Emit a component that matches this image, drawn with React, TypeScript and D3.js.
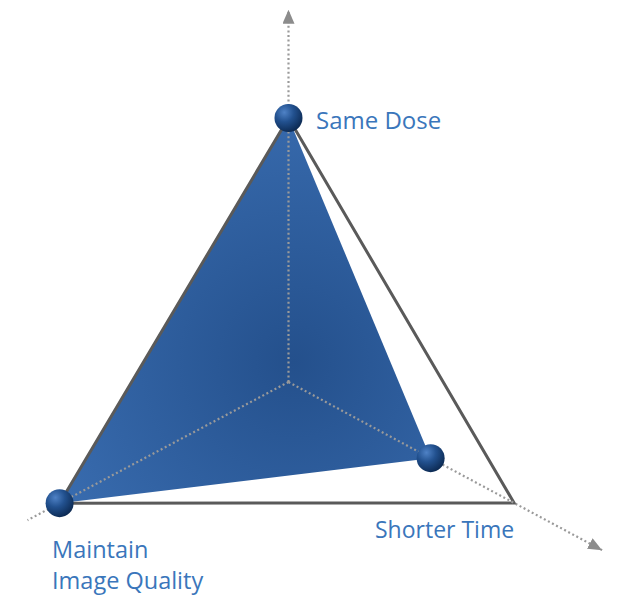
import React, { useEffect } from 'react';
import * as d3 from 'd3';

// axes of the triangle chart, angle in degrees (0 = right, clockwise positive)
const axisNames = ['Same Dose', 'Shorter Time', 'Maintain Image Quality'];
const axisAngles = [-90, 28.2, 152.1];
const axisLength = [264, 256, 259]; // pixel length of value 1 on each axis (perspective)
const axisExtent = [1.41, 1.39, 1.14];
const axisArrow = [true, true, false];
const values = [1, 0.63, 1];

const width = 622;
const height = 597;
const cx = 288.5;
const cy = 382;

export default function App() {
  useEffect(() => {
    document.body.style.margin = '0';
  }, []);

  const r = d3.scaleLinear().domain([0, 1]).range([0, 1]);
  const pt = (i: number, v: number): [number, number] => {
    const a = (axisAngles[i] * Math.PI) / 180;
    const d = r(v) * axisLength[i];
    return [cx + d * Math.cos(a), cy + d * Math.sin(a)];
  };

  const line = d3.line<[number, number]>().curve(d3.curveLinearClosed);
  const outer = axisNames.map((_, i) => pt(i, 1));
  const inner = values.map((v, i) => pt(i, v));

  const labelColor = '#3a76bb';
  const font = "'Open Sans', 'Noto Sans', sans-serif";

  return (
    <svg width={width} height={height} style={{ display: 'block' }}>
      <defs>
        <radialGradient id="fillGrad" gradientUnits="userSpaceOnUse" cx={cx + 5} cy={cy - 20} r={300}>
          <stop offset="0%" stopColor="#24508c" />
          <stop offset="100%" stopColor="#3b6fb3" />
        </radialGradient>
        <radialGradient id="ball" cx="35%" cy="30%" r="75%">
          <stop offset="0%" stopColor="#4f82c6" />
          <stop offset="45%" stopColor="#22518f" />
          <stop offset="100%" stopColor="#0b2850" />
        </radialGradient>
        <marker id="arrow" viewBox="0 0 14 12" refX="14" refY="6" markerWidth="14" markerHeight="12"
          markerUnits="userSpaceOnUse" orient="auto">
          <path d="M0,0L14,6L0,12Z" fill="#8c8c8c" />
        </marker>
      </defs>

      <path d={line(inner) ?? ''} fill="url(#fillGrad)" />
      <path d={line(outer) ?? ''} fill="none" stroke="#5a5a5a" strokeWidth={3} strokeLinejoin="miter" />

      {axisNames.map((name, i) => {
        const [x2, y2] = pt(i, axisExtent[i]);
        return (
          <line key={name} x1={cx} y1={cy} x2={x2} y2={y2} stroke="#9a9a9a" strokeWidth={2.2}
            strokeDasharray="2,2.6" markerEnd={axisArrow[i] ? 'url(#arrow)' : undefined} />
        );
      })}

      {inner.map(([x, y], i) => (
        <circle key={i} cx={x} cy={y} r={14} fill="url(#ball)" />
      ))}

      <text x={316} y={129} fill={labelColor} fontFamily={font} fontSize={24}>{axisNames[0]}</text>
      <text x={375} y={538} fill={labelColor} fontFamily={font} fontSize={23}>{axisNames[1]}</text>
      <text x={52} y={558} fill={labelColor} fontFamily={font} fontSize={23.5}>
        <tspan x={52}>Maintain</tspan>
        <tspan x={52} dy={31}>Image Quality</tspan>
      </text>
    </svg>
  );
}
